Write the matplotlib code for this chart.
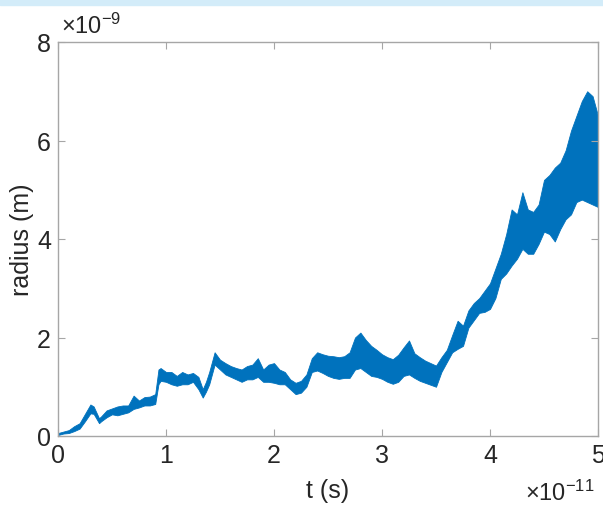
import numpy as np
import matplotlib
matplotlib.use('Agg')
import matplotlib.pyplot as plt
from matplotlib.patches import Rectangle

# tiempo en unidades de 1e-11 s, radio en unidades de 1e-9 m
t = [0.00, 0.05, 0.10, 0.15, 0.20, 0.25, 0.30, 0.33, 0.38, 0.40,
     0.45, 0.50, 0.55, 0.60, 0.65, 0.70, 0.75, 0.80, 0.85, 0.90,
     0.93, 0.95, 1.00, 1.05, 1.10, 1.15, 1.20, 1.25, 1.30, 1.34,
     1.37, 1.40, 1.45, 1.50, 1.55, 1.60, 1.65, 1.70, 1.75, 1.80,
     1.85, 1.90, 1.95, 2.00, 2.05, 2.10, 2.15, 2.20, 2.25, 2.30,
     2.35, 2.40, 2.45, 2.50, 2.55, 2.60, 2.65, 2.70, 2.75, 2.80,
     2.85, 2.90, 2.95, 3.00, 3.05, 3.10, 3.15, 3.20, 3.25, 3.30,
     3.35, 3.40, 3.45, 3.50, 3.55, 3.60, 3.65, 3.70, 3.75, 3.80,
     3.85, 3.90, 3.95, 4.00, 4.05, 4.10, 4.15, 4.20, 4.25, 4.30,
     4.35, 4.40, 4.45, 4.50, 4.55, 4.60, 4.65, 4.70, 4.75, 4.80,
     4.85, 4.90, 4.95, 5.00]

# envolvente inferior del radio
r_low = [0.02, 0.05, 0.06, 0.10, 0.15, 0.30, 0.46, 0.45, 0.26, 0.30,
         0.38, 0.44, 0.42, 0.45, 0.48, 0.55, 0.58, 0.62, 0.62, 0.65,
         1.05, 1.12, 1.10, 1.05, 1.02, 1.05, 1.05, 1.10, 0.95, 0.78,
         0.90, 1.05, 1.45, 1.35, 1.25, 1.20, 1.15, 1.10, 1.15, 1.15,
         1.20, 1.10, 1.10, 1.08, 1.05, 1.05, 0.95, 0.85, 0.88, 1.00,
         1.30, 1.33, 1.28, 1.22, 1.18, 1.16, 1.18, 1.18, 1.35, 1.38,
         1.30, 1.22, 1.20, 1.16, 1.10, 1.06, 1.10, 1.22, 1.25, 1.18,
         1.12, 1.08, 1.04, 1.00, 1.30, 1.50, 1.70, 1.77, 1.83, 2.20,
         2.35, 2.50, 2.52, 2.58, 2.80, 3.19, 3.30, 3.46, 3.60, 3.80,
         3.70, 3.70, 3.90, 4.15, 4.10, 3.95, 4.20, 4.40, 4.50, 4.75,
         4.80, 4.75, 4.70, 4.65]

# envolvente superior del radio
r_high = [0.06, 0.09, 0.12, 0.20, 0.26, 0.45, 0.64, 0.60, 0.36, 0.40,
          0.52, 0.56, 0.60, 0.62, 0.62, 0.82, 0.72, 0.79, 0.80, 0.85,
          1.35, 1.38, 1.30, 1.30, 1.22, 1.30, 1.25, 1.28, 1.20, 0.95,
          1.10, 1.30, 1.70, 1.55, 1.48, 1.42, 1.38, 1.35, 1.42, 1.45,
          1.58, 1.35, 1.45, 1.48, 1.35, 1.30, 1.15, 1.08, 1.12, 1.25,
          1.58, 1.70, 1.66, 1.63, 1.62, 1.60, 1.62, 1.70, 2.00, 2.10,
          1.95, 1.83, 1.75, 1.66, 1.60, 1.56, 1.65, 1.80, 1.94, 1.68,
          1.60, 1.53, 1.48, 1.43, 1.60, 1.75, 2.05, 2.34, 2.24, 2.55,
          2.70, 2.80, 2.95, 3.10, 3.40, 3.70, 4.10, 4.60, 4.50, 4.95,
          4.60, 4.55, 4.70, 5.20, 5.30, 5.45, 5.55, 5.80, 6.20, 6.50,
          6.80, 7.00, 6.90, 6.50]

color = '#0072BD'
plt.rcParams['font.family'] = ['Liberation Sans', 'DejaVu Sans']
plt.rcParams['mathtext.fontset'] = 'custom'
plt.rcParams['mathtext.rm'] = 'Liberation Sans'
plt.rcParams['mathtext.it'] = 'Liberation Sans'

fig = plt.figure(figsize=(6.03, 5.10), dpi=100)
fig.patches.append(Rectangle((0, 1 - 6 / 510), 1, 6 / 510, transform=fig.transFigure,
                             color='#d3ecf9', zorder=0))
ax = fig.add_axes([58 / 603, 73 / 510, 540 / 603, 394 / 510])

# banda de oscilacion del radio
ax.fill_between(t, r_low, r_high, color=color, linewidth=0.6, edgecolor=color)

ax.set_xlim(0, 5)
ax.set_ylim(0, 8)
ax.set_xticks([0, 1, 2, 3, 4, 5])
ax.set_yticks([0, 2, 4, 6, 8])
for s in ax.spines.values():
    s.set_color('#a6a6a6')
    s.set_linewidth(1.0)
ax.tick_params(direction='in', length=5, width=0.8, color='#a6a6a6',
               labelsize=18, labelcolor='#262626', top=True, right=True, pad=5)
ax.set_xlabel('t (s)', fontsize=18, color='#262626', labelpad=8)
ax.set_ylabel('radius (m)', fontsize=18, color='#262626', labelpad=2)

ax.text(0.005, 1.01, r'$\times10^{-9}$', transform=ax.transAxes, fontsize=17,
        color='#262626', ha='left', va='bottom')
ax.text(0.865, -0.11, r'$\times10^{-11}$', transform=ax.transAxes, fontsize=17,
        color='#262626', ha='left', va='top')

fig.savefig('out.png', dpi=100)
